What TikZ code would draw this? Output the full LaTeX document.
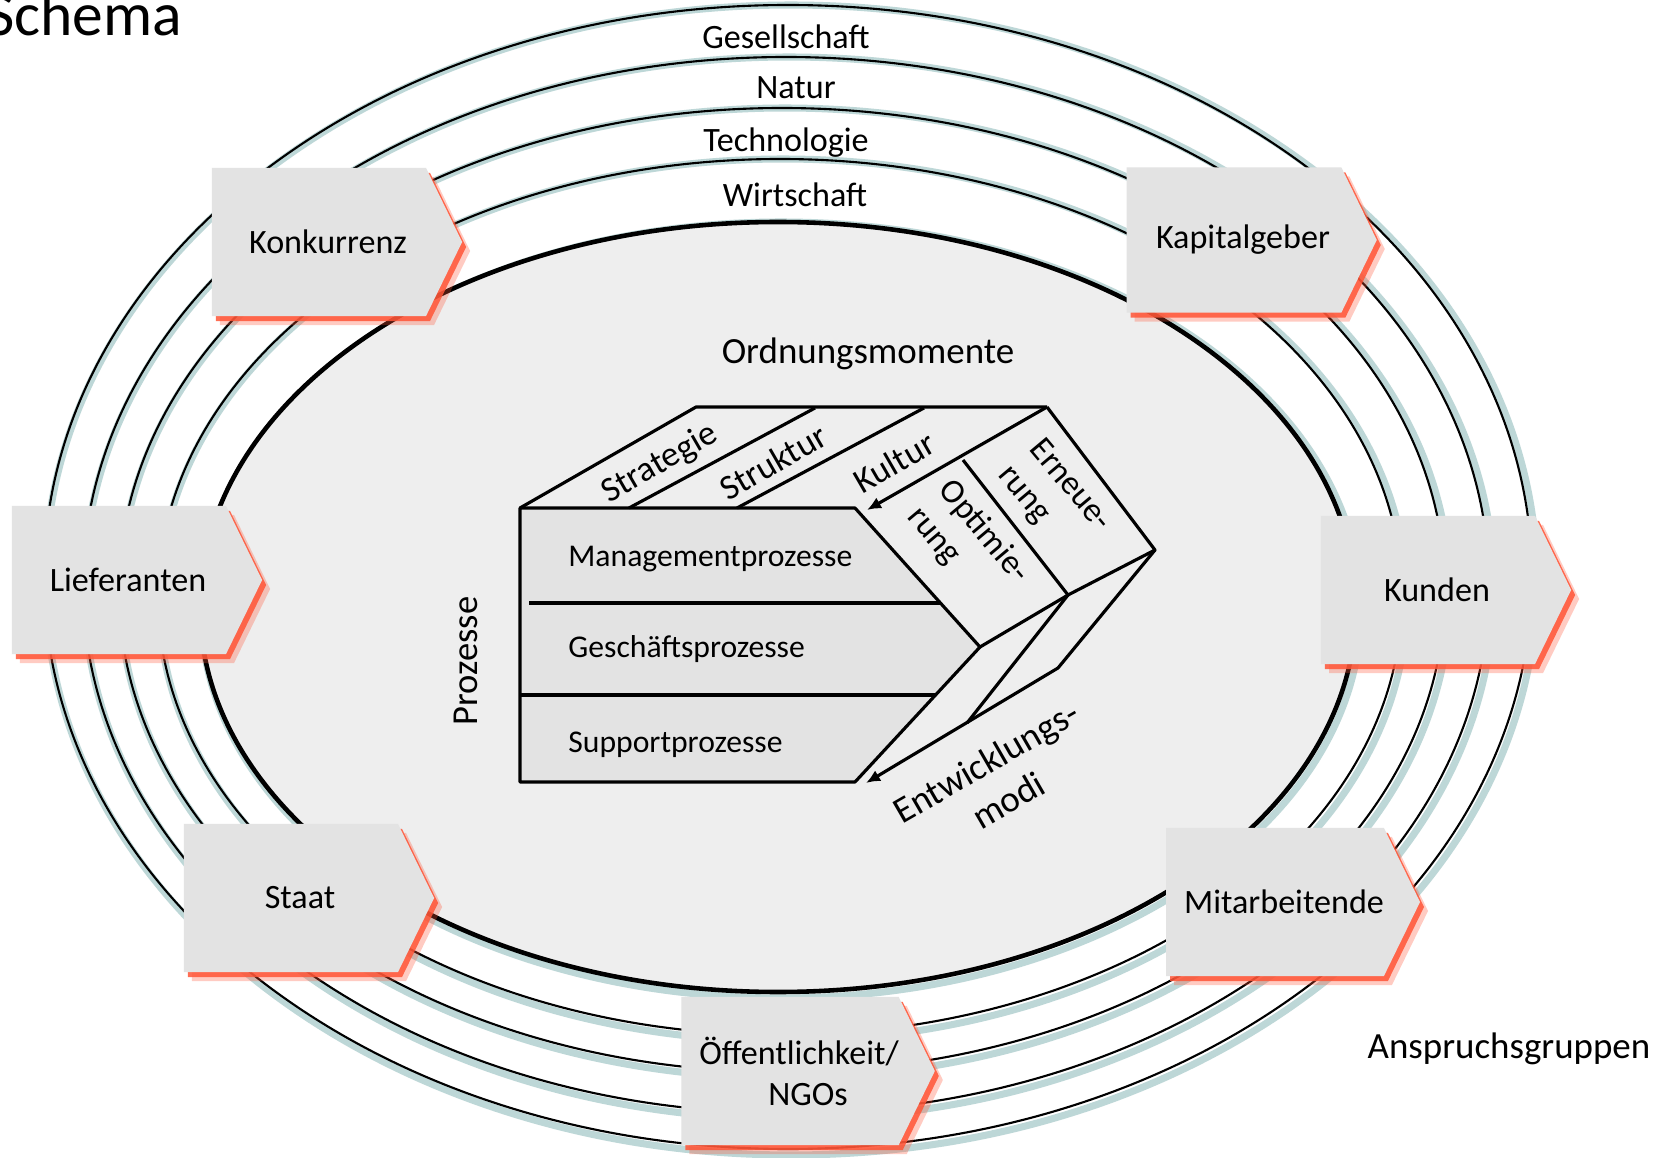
\documentclass[tikz,border=0pt]{standalone}
\usepackage{fontspec}
\setmainfont{Carlito}
\usetikzlibrary{shapes.symbols,arrows.meta,shadows}
\definecolor{bggray}{RGB}{238,238,238}
\definecolor{boxgray}{RGB}{227,227,227}
\definecolor{glowred}{RGB}{255,85,55}
\definecolor{ringteal}{RGB}{100,160,160}
\newcommand{\fsz}[1]{\fontsize{#1}{1.2\dimexpr#1pt\relax}\selectfont}

\begin{document}
\begin{tikzpicture}[x=0.01cm,y=-0.01cm,
    every node/.style={font=\fsz{9.7}},
    ringline/.style={draw,line width=0.6pt},
    ringshade/.style={draw=ringteal,line width=2pt,opacity=0.42},
    grpbox/.style={signal,signal to=east,signal pointer angle=128,
      minimum width=2.5cm,minimum height=1.48cm,inner sep=0pt,
      fill=boxgray,align=center,execute at begin node=\hspace*{0.18cm},
      drop shadow={shadow xshift=0.08cm,shadow yshift=-0.09cm,fill=glowred,opacity=0.3},
      drop shadow={shadow xshift=0.04cm,shadow yshift=-0.05cm,fill=glowred,opacity=0.85}},
    cubeline/.style={line width=0.9pt,line join=round},
    modearrow/.style={-{Latex[length=4pt,width=3.5pt]}}]
  \useasboundingbox[fill=white] (0,0) rectangle (1666,1158);
  % Umweltsphaeren
  \foreach \cx/\cy/\rx/\ry in {788/577/744/572,786/585/703/528,782/590/663/482,780/597/622/438}{
    \draw[ringshade] (\cx+3,\cy+3) ellipse [x radius=\rx+2, y radius=\ry+3];
    \draw[ringline] (\cx,\cy) ellipse [x radius=\rx, y radius=\ry];
  }
  \draw[ringshade] (781,610) ellipse [x radius=580, y radius=388];
  \draw[fill=bggray,line width=1.3pt] (778,607) ellipse [x radius=578, y radius=385];
  \node[anchor=base] (ges) at (786,49) {Gesellschaft};
  \node[anchor=base] (nat) at (796,99) {Natur};
  \node[anchor=base] (tech) at (786,152) {Technologie};
  \node[anchor=base] (wirt) at (795,207) {Wirtschaft};
  \node[anchor=base east,inner sep=0pt,font=\fsz{17.5}] (schema) at (183,36) {Schema};
  \node[anchor=base,font=\fsz{10.5}] (ordn) at (868,364) {Ordnungsmomente};
  \node[anchor=base,font=\fsz{10.5}] (anspr) at (1509,1058) {Anspruchsgruppen};

  % Anspruchsgruppen
  \node[grpbox] (konk) at (319,242) {Konkurrenz};
  \node[grpbox] (lief) at (119,580) {Lieferanten};
  \node[grpbox] (staat) at (291,898) {Staat};
  \node[grpbox,minimum height=1.45cm] (kapi) at (1234,240) {Kapitalgeber};
  \node[grpbox] (kund) at (1428,590) {Kunden};
  \node[grpbox] (mita) at (1275,902) {Mitarbeitende};
  \node[grpbox] (oeff) at (790,1071) {Öffentlichkeit/\\\hspace*{0.18cm}NGOs};

  % Prozesse, Ordnungsmomente, Entwicklungsmodi
  \coordinate (fa) at (520,508);
  \coordinate (fb) at (855,508);
  \coordinate (ft) at (980,647);
  \coordinate (fc) at (855,782);
  \coordinate (fd) at (520,782);
  \coordinate (ba) at (696,407);
  \coordinate (bb) at (1047,407);
  \coordinate (bt) at (1155,550);
  \coordinate (em) at (1068,595);
  \coordinate (lm) at (967,723);
  \coordinate (lb) at (1058,668);
  \fill[boxgray] (fa) -- (fb) -- (ft) -- (fc) -- (fd) -- cycle;
  \draw[cubeline] (ft) -- (fb) -- (fa) -- (fd) -- (fc) -- cycle;
  \draw[cubeline] (529,603) -- (940,603);
  \draw[cubeline] (520,695) -- (935,695);
  \draw[cubeline] (fa) -- (ba) -- (bb);
  \draw[cubeline,modearrow] (bb) -- (867,510);
  \draw[cubeline] (629,508) -- (815,408);
  \draw[cubeline] (737,508) -- (924,408);
  \draw[cubeline] (bb) -- (bt) -- (em) -- (ft);
  \draw[cubeline] (963,460) -- (em) -- (lm);
  \draw[cubeline,modearrow] (bt) -- (lb) -- (866,783);

  \node[anchor=base west,font=\fsz{9}] (mgmt) at (556,567) {Managementprozesse};
  \node[anchor=base west,font=\fsz{9}] (gesch) at (556,658) {Geschäftsprozesse};
  \node[anchor=base west,font=\fsz{9}] (supp) at (556,752) {Supportprozesse};
  \node[rotate=90,font=\fsz{10.4}] (proz) at (466,661) {Prozesse};
  \node[rotate=30,font=\fsz{10}] (strat) at (660,464) {Strategie};
  \node[rotate=30,font=\fsz{10}] (strk) at (773,462) {Struktur};
  \node[rotate=30,font=\fsz{10}] (kult) at (894,462) {Kultur};
  \node[rotate=-50,align=left] (opti) at (968,545) {Optimie-\\rung};
  \node[rotate=-50,align=left] (erne) at (1054,499) {Erneue-\\rung};
  \node[rotate=30,align=center,font=\fsz{10.5}] (entw) at (997,781) {Entwicklungs-\\modi};
\end{tikzpicture}
\end{document}
